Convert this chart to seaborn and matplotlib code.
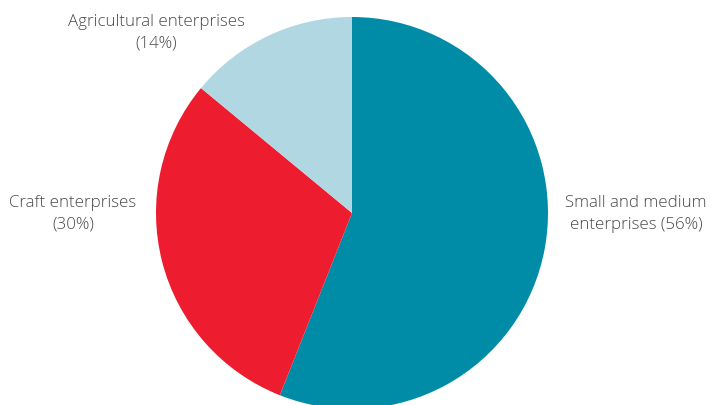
import matplotlib
matplotlib.use("Agg")
import matplotlib.pyplot as plt
import seaborn as sns

categories = ["Small and medium\nenterprises", "Craft enterprises", "Agricultural enterprises"]
shares = [56, 30, 14]
colors = ["#008BA7", "#EE1C2F", "#B1D8E2"]

sns.set_theme(style="white")
plt.rcParams['font.family'] = ['Open Sans', 'DejaVu Sans']

fig = plt.figure(figsize=(7.11, 4.05), dpi=100)
ax = fig.add_axes([0, 0, 1, 1])

ax.pie(shares, colors=colors, startangle=90, counterclock=False,
       center=(352, 405 - 213), radius=196, frame=True,
       wedgeprops=dict(linewidth=0))
ax.set_xlim(0, 711)
ax.set_ylim(0, 405)
ax.set_aspect('equal')
ax.axis('off')

labels = [f"{categories[0]} ({shares[0]}%)",
          f"{categories[1]}\n({shares[1]}%)",
          f"{categories[2]}\n({shares[2]}%)"]
pos = [(636, 405 - 214), (73, 405 - 214), (156, 405 - 33)]
for t, (x, y) in zip(labels, pos):
    ax.text(x, y, t, ha='center', va='center', fontsize=12.2, color='#4a4a4a',
            fontweight='light', linespacing=1.42)

fig.savefig("out.png", dpi=100)
